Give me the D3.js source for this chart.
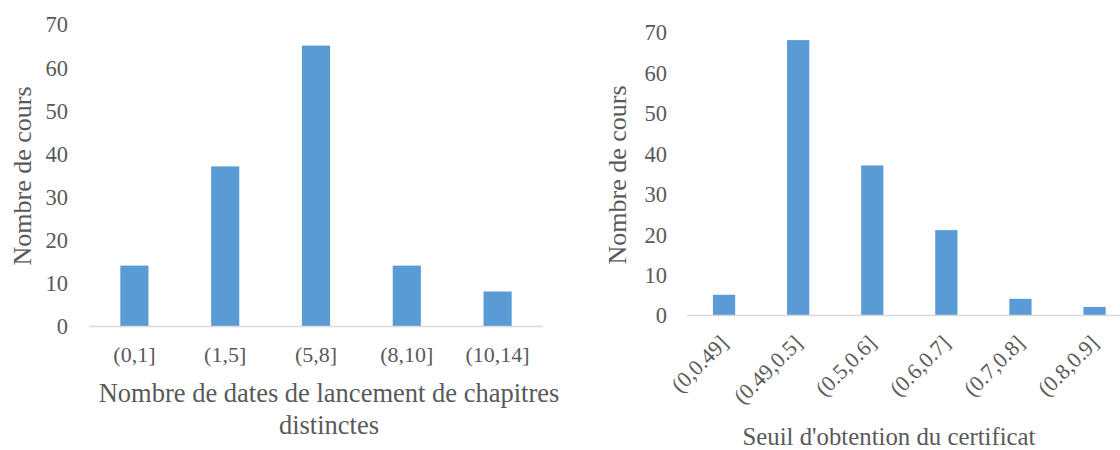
<!DOCTYPE html>
<html>
<head>
<meta charset="utf-8">
<script src="https://cdn.jsdelivr.net/npm/d3@7"></script>
<style>
  html, body { margin: 0; padding: 0; background: #ffffff; }
  svg { display: block; }
  text { font-family: "Liberation Serif", "Times New Roman", serif; fill: #595959; }
</style>
</head>
<body>
<svg id="chart" width="1120" height="450"></svg>
<script>
// ---- Data ----
const leftCategories = ["(0,1]", "(1,5]", "(5,8]", "(8,10]", "(10,14]"];
const leftValues = [14, 37, 65, 14, 8];
const leftYTicks = [0, 10, 20, 30, 40, 50, 60, 70];
const leftXTitle = ["Nombre de dates de lancement de chapitres", "distinctes"];

const rightCategories = ["(0,0.49]", "(0.49,0.5]", "(0.5,0.6]", "(0.6,0.7]", "(0.7,0.8]", "(0.8,0.9]"];
const rightValues = [5, 68, 37, 21, 4, 2];
const rightYTicks = [0, 10, 20, 30, 40, 50, 60, 70];
const rightXTitle = ["Seuil d'obtention du certificat"];

const yTitle = "Nombre de cours";

// ---- Drawing ----
const svg = d3.select("#chart");
const BAR = "#5B9BD5";
const AXIS = "#D9D9D9";

function drawChart(cfg) {
  const g = svg.append("g");
  const x = d3.scaleBand()
    .domain(cfg.categories)
    .range([cfg.x0, cfg.x0 + cfg.step * cfg.categories.length])
    .paddingInner(cfg.pad)
    .paddingOuter(cfg.pad / 2);
  const y = d3.scaleLinear().domain([0, 70]).range([cfg.yBase, cfg.yTop]);

  // bars
  g.selectAll("rect.bar")
    .data(cfg.values)
    .join("rect")
    .attr("class", "bar")
    .attr("x", (d, i) => x(cfg.categories[i]))
    .attr("width", x.bandwidth())
    .attr("y", d => y(d))
    .attr("height", d => y(0) - y(d))
    .attr("fill", BAR);

  // baseline axis line
  g.append("line")
    .attr("x1", cfg.x0)
    .attr("x2", Math.min(cfg.axisEnd, cfg.x0 + cfg.step * cfg.categories.length))
    .attr("y1", y(0) + 0.5)
    .attr("y2", y(0) + 0.5)
    .attr("stroke", AXIS)
    .attr("stroke-width", 1.5);

  // y axis tick labels
  const yAxis = d3.axisLeft(y).tickValues(cfg.yTicks).tickSize(0).tickPadding(0);
  const ya = g.append("g")
    .attr("transform", `translate(${cfg.yLabelRight},0)`)
    .call(yAxis);
  ya.select(".domain").remove();
  ya.selectAll("text")
    .attr("font-family", "Liberation Serif, serif")
    .attr("font-size", 22.5)
    .attr("fill", "#595959")
    .attr("dy", "0.35em");

  // x axis labels
  const xAxis = d3.axisBottom(x).tickSize(0).tickPadding(0);
  const xa = g.append("g")
    .attr("transform", `translate(0,${cfg.xLabelY})`)
    .call(xAxis);
  xa.select(".domain").remove();
  const xt = xa.selectAll("text")
    .attr("font-family", "Liberation Serif, serif")
    .attr("font-size", 22)
    .attr("fill", "#595959");
  if (cfg.rotate) {
    xt.attr("text-anchor", "end")
      .attr("y", 0)
      .attr("dy", "0.35em")
      .attr("transform", `translate(${cfg.rotDx},0) rotate(-45)`);
  } else {
    xt.attr("y", 0).attr("dy", 0);
  }

  // y title
  g.append("text")
    .attr("transform", `translate(${cfg.yTitleX},${cfg.yTitleY}) rotate(-90)`)
    .attr("text-anchor", "middle")
    .attr("dominant-baseline", "central")
    .attr("font-size", cfg.yTitleSize)
    .text(yTitle);

  // x title
  cfg.xTitle.forEach((line, i) => {
    g.append("text")
      .attr("x", cfg.xTitleX)
      .attr("y", cfg.xTitleY + i * cfg.lineH)
      .attr("text-anchor", "middle")
      .attr("font-size", cfg.xTitleSize)
      .text(line);
  });
}

drawChart({
  categories: leftCategories, values: leftValues, yTicks: leftYTicks,
  x0: 89, step: 90.8, pad: 0.69, axisEnd: 2000,
  yBase: 326, yTop: 24, yLabelRight: 68,
  xLabelY: 362, rotate: false,
  yTitleX: 22, yTitleY: 176, yTitleSize: 26,
  xTitle: leftXTitle, xTitleX: 329, xTitleY: 402, lineH: 32, xTitleSize: 26.5
});

drawChart({
  categories: rightCategories, values: rightValues, yTicks: rightYTicks,
  x0: 687, step: 74.1, pad: 0.70, axisEnd: 1120,
  yBase: 315, yTop: 32, yLabelRight: 667,
  xLabelY: 339, rotate: true, rotDx: 0,
  yTitleX: 617, yTitleY: 175, yTitleSize: 26,
  xTitle: rightXTitle, xTitleX: 889, xTitleY: 445, lineH: 32, xTitleSize: 24.8
});
</script>
</body>
</html>
